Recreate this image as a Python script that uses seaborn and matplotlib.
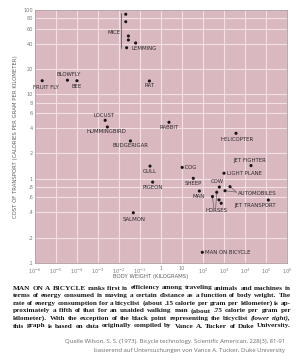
import numpy as np
import pandas as pd
import matplotlib
matplotlib.use("Agg")
import matplotlib.pyplot as plt
import matplotlib.transforms as mtransforms
import seaborn as sns

# ---------------- data ----------------
animals = ["FRUIT FLY", "BLOWFLY", "BEE", "MICE", "MICE", "MICE", "MICE", "MICE",
           "LEMMING", "RAT", "LOCUST", "HUMMINGBIRD", "BUDGERIGAR", "RABBIT", "GULL",
           "DOG", "PIGEON", "SHEEP", "MAN", "COW", "HORSES", "HORSES", "HORSES", "HORSES",
           "AUTOMOBILES", "AUTOMOBILES", "LIGHT PLANE", "JET FIGHTER", "HELICOPTER",
           "JET TRANSPORT", "SALMON", "MAN ON BICYCLE"]
body_weight_kg = [2.2e-6, 3.5e-5, 1.0e-4, 0.021, 0.021, 0.028, 0.028, 0.023,
                  0.062, 0.28, 0.0022, 0.0028, 0.035, 2.4, 0.30,
                  10.2, 0.40, 34.5, 67, 600, 450, 283, 578, 736,
                  1930, 1116, 1000, 19300, 3730,
                  129000, 0.048, 93]
cost_cal_g_km = [14.5, 14.7, 14.5, 89, 72.6, 49.2, 44.1, 35.7,
                 40.6, 14.4, 4.92, 4.10, 2.80, 4.66, 1.41,
                 1.36, 0.91, 1.01, 0.714, 0.796, 0.69, 0.614, 0.561, 0.511,
                 0.804, 0.719, 1.16, 1.43, 3.45,
                 0.558, 0.394, 0.134]

x_ticks = [10.0 ** k for k in range(-6, 7)]
x_tick_labels = [r"$10^{%d}$" % k if k not in (0, 1) else ("1" if k == 0 else "10")
                 for k in range(-6, 7)]
y_ticks = [0.1, 0.2, 0.4, 0.6, 0.8, 1, 2, 4, 6, 8, 10, 20, 40, 60, 80, 100]
y_tick_labels = [".1", ".2", ".4", ".6", ".8", "1", "2", "4", "6", "8",
                 "10", "20", "40", "60", "80", "100"]

x_title = "BODY WEIGHT (KILOGRAMS)"
y_title = "COST OF TRANSPORT (CALORIES PER GRAM PER KILOMETER)"

caption_lines = [
    "MAN ON A BICYCLE ranks first in efficiency among traveling animals and machines in",
    "terms of energy consumed in moving a certain distance as a function of body weight. The",
    "rate of energy consumption for a bicyclist (about .15 calorie per gram per kilometer) is ap-",
    "proximately a fifth of that for an unaided walking man (about .75 calorie per gram per",
    "kilometer). With the exception of the black point representing the bicyclist (lower right),",
    "this graph is based on data originally compiled by Vance A. Tucker of Duke University.",
]
source_lines = [
    "Quelle Wilson, S. S. (1973). Bicycle technology. Scientific American, 228(3), 81-91",
    "basierend auf Untersuchungen von Vance A. Tucker, Duke University",
]

df = pd.DataFrame({"animal": animals, "weight": body_weight_kg, "cost": cost_cal_g_km})

# label placement: group -> (anchor index in group, dx px, dy px, ha)
label_place = {
    "FRUIT FLY": (0, 3.5, -6.6, "center"),
    "BLOWFLY": (0, 1.5, 5.3, "center"),
    "BEE": (0, -0.6, -5.3, "center"),
    "MICE": (2, -8.0, 3.0, "right"),
    "LEMMING": (0, -3.7, -5.3, "left"),
    "RAT": (0, 0, -5.0, "center"),
    "LOCUST": (0, -1, 4.6, "center"),
    "HUMMINGBIRD": (0, -0.6, -5.0, "center"),
    "BUDGERIGAR": (0, 0.5, -5.0, "center"),
    "RABBIT": (0, 0.5, -5.4, "center"),
    "GULL": (0, -0.5, -5.0, "center"),
    "DOG": (0, 2.8, 0, "left"),
    "PIGEON": (0, -0.4, -5.0, "center"),
    "SHEEP": (0, 0, -5.0, "center"),
    "MAN": (0, -1, -5.0, "center"),
    "COW": (0, -2, 6.0, "center"),
    "HORSES": (3, -5, -7.7, "center"),
    "AUTOMOBILES": (0, 8.3, -7.3, "left"),
    "LIGHT PLANE": (0, 3, 0, "left"),
    "JET FIGHTER": (0, -1, 5.0, "center"),
    "HELICOPTER": (0, 1, -5.7, "center"),
    "JET TRANSPORT": (0, -12.8, -5.0, "center"),
    "SALMON": (0, 0.5, -6.3, "center"),
    "MAN ON BICYCLE": (0, 2.7, 0, "left"),
}

# ---------------- figure ----------------
sns.set_style("white")
W, H = 300, 361
fig = plt.figure(figsize=(W / 100, H / 100), dpi=100)
fig.patch.set_facecolor("white")
ax = fig.add_axes([35 / W, 1 - 263 / H, 252 / W, 253 / H])

bg = "#dab8c0"
grid_c = "#f1e0e4"
ax.set_facecolor(bg)
ax.set_xscale("log")
ax.set_yscale("log")
ax.set_xlim(1e-6, 1e6)
ax.set_ylim(0.1, 100)

for xv in x_ticks:
    ax.axvline(xv, color=grid_c, lw=0.8, zorder=0.5)
for yv in y_ticks:
    ax.axhline(yv, color=grid_c, lw=0.8, zorder=0.5)

sns.scatterplot(data=df, x="weight", y="cost", ax=ax, color="#161616", s=5,
                edgecolor="none", legend=False, zorder=3)

ax.set_xticks(x_ticks)
ax.set_xticklabels(x_tick_labels)
ax.set_yticks(y_ticks)
ax.set_yticklabels(y_tick_labels)
ax.minorticks_off()
ax.tick_params(axis="both", length=0, labelsize=3.6, colors="#7a7a7a", pad=2.5)
ax.tick_params(axis="y", pad=1.5)
for s in ax.spines.values():
    s.set_color("#a89a9d")
    s.set_linewidth(0.6)

ax.set_xlabel(x_title, fontsize=3.9, color="#606060", labelpad=1)
ax.set_ylabel(y_title, fontsize=3.9, color="#606060", labelpad=4)
ax.xaxis.set_label_coords(0.46, -0.045)

label_kw = dict(fontsize=3.9, color="#2b2b2b", textcoords="offset pixels",
                va="center", zorder=4)
for name, (idx, dx, dy, ha) in label_place.items():
    g = df[df.animal == name].reset_index(drop=True)
    x0, y0 = g.weight[idx], g.cost[idx]
    ax.annotate(name, (x0, y0), xytext=(dx, dy), ha=ha, **label_kw)

# mice bracket
mice = df[df.animal == "MICE"]
tr = mtransforms.offset_copy(ax.transData, fig=fig, x=-4.5, y=0, units="dots")
ax.plot([mice.weight.min()] * 2, [mice.cost.max() * 1.04, mice.cost.min() * 0.99],
        color="#4a4a4a", lw=0.5, transform=tr, zorder=2)

# horses leaders
horses = df[df.animal == "HORSES"].reset_index(drop=True)
to_disp = ax.transData.transform
from_disp = ax.transData.inverted().transform
hx, hy = to_disp((horses.weight[3], horses.cost[3]))
for i, dxl in ((1, -7.5), (0, -5.5)):
    start = from_disp((hx + dxl, hy - 4.5))
    ax.plot([start[0], horses.weight[i]], [start[1], horses.cost[i]],
            color="#4a4a4a", lw=0.4, zorder=2)
# automobiles leader
autos = df[df.animal == "AUTOMOBILES"].reset_index(drop=True)
ax_, ay_ = to_disp((autos.weight[0], autos.cost[0]))
end = from_disp((ax_ + 6.5, ay_ - 5.5))
ax.plot([autos.weight[0], end[0]], [autos.cost[0], end[1]], color="#4a4a4a", lw=0.4, zorder=2)
ax.plot([autos.weight[1], end[0]], [autos.cost[1], end[1]], color="#4a4a4a", lw=0.4, zorder=2)

# ---------------- caption (justified) ----------------
fig.canvas.draw()
renderer = fig.canvas.get_renderer()
cap_fs = 5.25
x_left, x_right = 13, 291
y_rows = [288, 295.6, 303.2, 310.8, 318.4, 326]
italic_words = {"(lower", "right),"}
for li, (line, yp) in enumerate(zip(caption_lines, y_rows)):
    words = line.split(" ")
    texts = []
    widths = []
    for wi, w in enumerate(words):
        style = "italic" if w in italic_words else "normal"
        t = fig.text(0, 1 - yp / H, w, fontsize=cap_fs, family="Liberation Serif",
                     weight="bold", style=style, va="center", ha="left", color="#1a1a1a")
        texts.append(t)
        widths.append(t.get_window_extent(renderer=renderer).width)
    gap = (x_right - x_left - sum(widths)) / (len(words) - 1)
    xp = x_left
    for t, wdt in zip(texts, widths):
        t.set_x(xp / W)
        xp += wdt + gap

src_y = [341, 350.5]
for line, yp in zip(source_lines, src_y):
    fig.text(285 / W, 1 - yp / H, line, fontsize=4.3, family="Open Sans",
             color="#6a6a6a", ha="right", va="center")

fig.savefig("out.png", dpi=100, facecolor="white")
